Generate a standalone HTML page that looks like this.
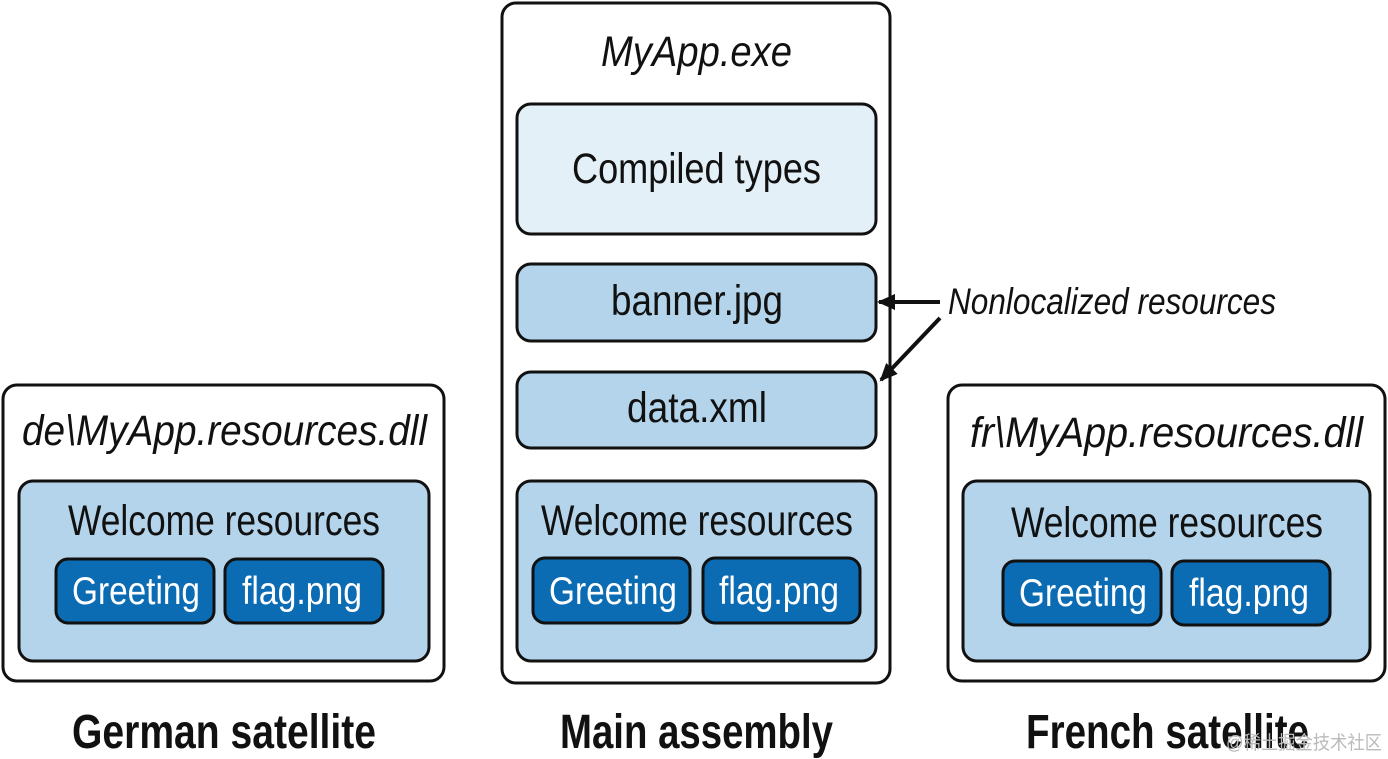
<!DOCTYPE html>
<html><head><meta charset="utf-8"><style>
html,body{margin:0;padding:0;background:#fff;}
svg{display:block;}
text{font-family:"Liberation Sans",sans-serif;fill:#111;}
.it{font-style:italic;}
.w{fill:#fff;}
.b{font-weight:bold;}
</style></head><body>
<svg width="1388" height="759" viewBox="0 0 1388 759" xmlns="http://www.w3.org/2000/svg">
<defs>
<marker id="ah" markerWidth="18" markerHeight="18" refX="16" refY="9" orient="auto" markerUnits="userSpaceOnUse" viewBox="0 0 18 18">
<path d="M0,1 L18,9 L0,17 z" fill="#111"/>
</marker>
</defs>
<g stroke="#111" stroke-width="3">
<rect x="502" y="3" width="388" height="680" rx="14" fill="#fff"/>
<rect x="517" y="104" width="359" height="130" rx="14" fill="#e4f0f8"/>
<rect x="517" y="264" width="359" height="77" rx="14" fill="#b3d4ea"/>
<rect x="517" y="372" width="359" height="76" rx="14" fill="#b3d4ea"/>
<rect x="517" y="481" width="359" height="180" rx="14" fill="#b3d4ea"/>
<rect x="533" y="558" width="157" height="65" rx="12" fill="#0b6cb4"/>
<rect x="703" y="558" width="157" height="65" rx="12" fill="#0b6cb4"/>
<rect x="3" y="385" width="441" height="296" rx="14" fill="#fff"/>
<rect x="19" y="481" width="410" height="180" rx="14" fill="#b3d4ea"/>
<rect x="56" y="559" width="158" height="64" rx="12" fill="#0b6cb4"/>
<rect x="225" y="559" width="158" height="64" rx="12" fill="#0b6cb4"/>
<rect x="948" y="385" width="437" height="296" rx="14" fill="#fff"/>
<rect x="963" y="481" width="407" height="180" rx="14" fill="#b3d4ea"/>
<rect x="1003" y="561" width="158" height="64" rx="12" fill="#0b6cb4"/>
<rect x="1172" y="561" width="158" height="64" rx="12" fill="#0b6cb4"/>
</g>
<g stroke="#111" stroke-width="4" fill="none">
<line x1="940" y1="302" x2="879" y2="302" marker-end="url(#ah)"/>
<line x1="940" y1="318" x2="881" y2="380" marker-end="url(#ah)"/>
</g>
<g font-size="43">
<text class="it" x="601" y="66" textLength="191" lengthAdjust="spacingAndGlyphs">MyApp.exe</text>
<text x="572" y="183" textLength="249" lengthAdjust="spacingAndGlyphs">Compiled types</text>
<text x="611" y="315" textLength="172" lengthAdjust="spacingAndGlyphs">banner.jpg</text>
<text x="627" y="422" textLength="140" lengthAdjust="spacingAndGlyphs">data.xml</text>
<text x="541" y="535" textLength="312" lengthAdjust="spacingAndGlyphs">Welcome resources</text>
<text x="68" y="535" textLength="312" lengthAdjust="spacingAndGlyphs">Welcome resources</text>
<text x="1011" y="537" textLength="312" lengthAdjust="spacingAndGlyphs">Welcome resources</text>
<text class="it" x="22" y="445" textLength="405" lengthAdjust="spacingAndGlyphs">de\MyApp.resources.dll</text>
<text class="it" x="970" y="447" textLength="393" lengthAdjust="spacingAndGlyphs">fr\MyApp.resources.dll</text>
</g>
<g font-size="39">
<text class="w" x="549" y="604" textLength="128" lengthAdjust="spacingAndGlyphs">Greeting</text>
<text class="w" x="719" y="604" textLength="120" lengthAdjust="spacingAndGlyphs">flag.png</text>
<text class="w" x="72" y="604" textLength="128" lengthAdjust="spacingAndGlyphs">Greeting</text>
<text class="w" x="242" y="604" textLength="120" lengthAdjust="spacingAndGlyphs">flag.png</text>
<text class="w" x="1019" y="606" textLength="128" lengthAdjust="spacingAndGlyphs">Greeting</text>
<text class="w" x="1189" y="606" textLength="120" lengthAdjust="spacingAndGlyphs">flag.png</text>
</g>
<text class="it" x="948" y="314" font-size="37" textLength="328" lengthAdjust="spacingAndGlyphs">Nonlocalized resources</text>
<g font-size="48">
<text class="b" x="72" y="748" textLength="304" lengthAdjust="spacingAndGlyphs">German satellite</text>
<text class="b" x="560" y="748" textLength="273" lengthAdjust="spacingAndGlyphs">Main assembly</text>
<text class="b" x="1026" y="748" textLength="283" lengthAdjust="spacingAndGlyphs">French satellite</text>
</g>
<text x="1226" y="749" font-size="19" textLength="156" lengthAdjust="spacingAndGlyphs" style="fill:#bbb;font-family:'Liberation Sans','Noto Sans CJK SC',sans-serif">@稀土掘金技术社区</text>
</svg>
</body></html>
